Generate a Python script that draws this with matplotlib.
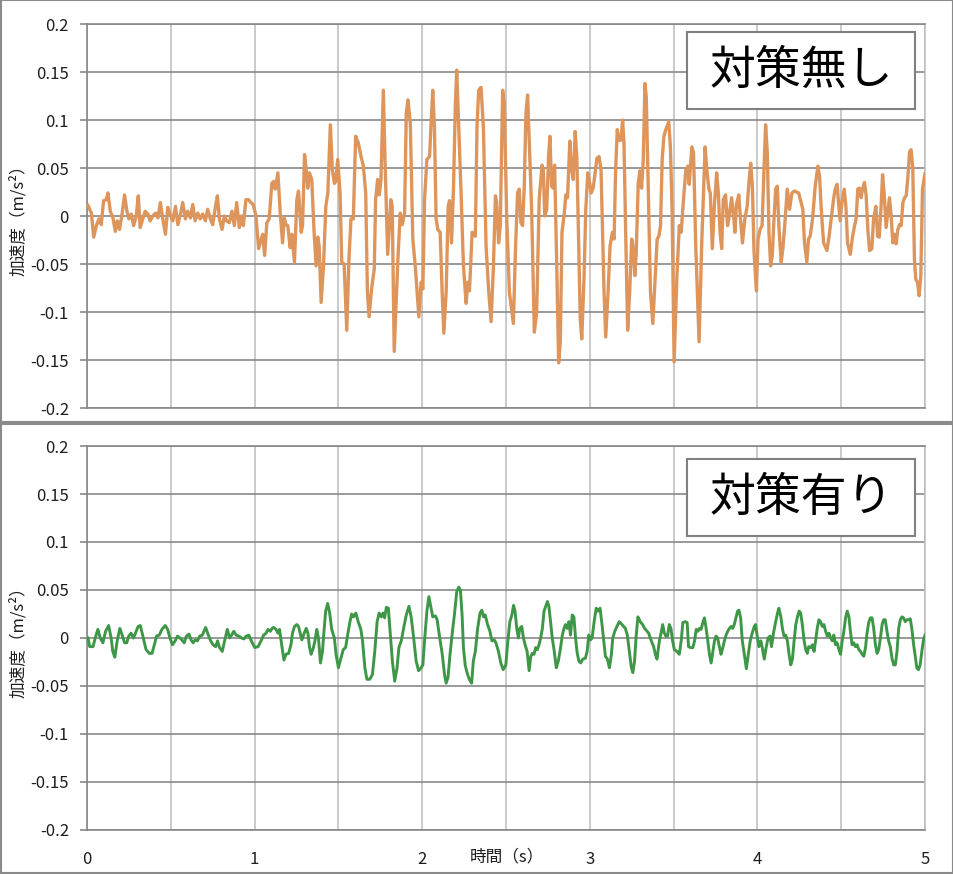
import matplotlib
matplotlib.use("Agg")
import matplotlib.pyplot as plt
from matplotlib.patches import Rectangle
import numpy as np

plt.rcParams['font.family'] = ['Noto Sans CJK JP', 'DejaVu Sans']

# ---- data (time [s], acceleration [m/s^2]) ----
before_t = [
    0.006, 0.026, 0.040, 0.056, 0.071, 0.085, 0.099, 0.115, 0.125, 0.139, 0.155, 0.169, 0.181, 0.194,
    0.210, 0.224, 0.238, 0.250, 0.264, 0.278, 0.294, 0.306, 0.317, 0.333, 0.347, 0.363, 0.377, 0.393,
    0.409, 0.423, 0.438, 0.452, 0.468, 0.482, 0.496, 0.512, 0.528, 0.542, 0.558, 0.571, 0.587, 0.601,
    0.617, 0.631, 0.645, 0.661, 0.675, 0.690, 0.706, 0.720, 0.734, 0.750, 0.766, 0.778, 0.790, 0.806,
    0.819, 0.833, 0.849, 0.865, 0.879, 0.893, 0.909, 0.921, 0.933, 0.948, 0.964, 0.978, 0.992, 1.008,
    1.024, 1.048, 1.060, 1.073, 1.087, 1.103, 1.113, 1.123, 1.139, 1.153, 1.167, 1.177, 1.187, 1.198,
    1.212, 1.222, 1.238, 1.252, 1.262, 1.278, 1.286, 1.298, 1.306, 1.317, 1.327, 1.341, 1.355, 1.367,
    1.377, 1.385, 1.397, 1.411, 1.425, 1.437, 1.452, 1.464, 1.476, 1.484, 1.496, 1.510, 1.520, 1.534,
    1.550, 1.563, 1.575, 1.589, 1.603, 1.619, 1.635, 1.649, 1.663, 1.673, 1.683, 1.698, 1.714, 1.722,
    1.734, 1.744, 1.754, 1.768, 1.778, 1.794, 1.813, 1.821, 1.833, 1.855, 1.869, 1.881, 1.895, 1.905,
    1.915, 1.929, 1.944, 1.960, 1.980, 1.994, 2.004, 2.014, 2.028, 2.044, 2.054, 2.063, 2.073, 2.083,
    2.093, 2.107, 2.119, 2.129, 2.143, 2.155, 2.163, 2.175, 2.187, 2.198, 2.206, 2.218, 2.232, 2.246,
    2.262, 2.272, 2.282, 2.298, 2.306, 2.317, 2.327, 2.337, 2.351, 2.365, 2.381, 2.397, 2.411, 2.425,
    2.437, 2.444, 2.456, 2.466, 2.480, 2.490, 2.504, 2.520, 2.544, 2.556, 2.569, 2.579, 2.589, 2.599,
    2.609, 2.619, 2.629, 2.639, 2.653, 2.669, 2.683, 2.698, 2.715, 2.723, 2.731, 2.743, 2.754, 2.762,
    2.772, 2.782, 2.790, 2.802, 2.814, 2.824, 2.834, 2.848, 2.857, 2.867, 2.881, 2.889, 2.901, 2.913,
    2.923, 2.933, 2.943, 2.952, 2.966, 2.976, 2.988, 2.996, 3.008, 3.020, 3.032, 3.042, 3.055, 3.067,
    3.075, 3.085, 3.095, 3.109, 3.121, 3.135, 3.145, 3.154, 3.164, 3.174, 3.186, 3.196, 3.204, 3.214,
    3.226, 3.238, 3.250, 3.257, 3.269, 3.277, 3.289, 3.299, 3.309, 3.319, 3.329, 3.337, 3.349, 3.362,
    3.376, 3.388, 3.402, 3.412, 3.422, 3.432, 3.442, 3.455, 3.471, 3.481, 3.491, 3.503, 3.520, 3.534,
    3.545, 3.559, 3.573, 3.585, 3.593, 3.609, 3.619, 3.632, 3.652, 3.668, 3.688, 3.698, 3.711, 3.719,
    3.731, 3.743, 3.757, 3.767, 3.777, 3.787, 3.796, 3.810, 3.822, 3.832, 3.846, 3.858, 3.866, 3.875,
    3.889, 3.899, 3.911, 3.925, 3.939, 3.951, 3.960, 3.970, 3.980, 3.994, 4.004, 4.016, 4.028, 4.040,
    4.049, 4.059, 4.069, 4.079, 4.089, 4.099, 4.109, 4.119, 4.128, 4.142, 4.152, 4.166, 4.178, 4.192,
    4.206, 4.221, 4.246, 4.261, 4.271, 4.281, 4.295, 4.305, 4.315, 4.329, 4.345, 4.361, 4.371, 4.381,
    4.395, 4.415, 4.428, 4.440, 4.454, 4.464, 4.476, 4.484, 4.494, 4.504, 4.518, 4.528, 4.538, 4.554,
    4.568, 4.580, 4.589, 4.599, 4.609, 4.619, 4.627, 4.639, 4.649, 4.659, 4.669, 4.683, 4.693, 4.707,
    4.717, 4.727, 4.737, 4.747, 4.756, 4.768, 4.778, 4.788, 4.798, 4.808, 4.818, 4.828, 4.838, 4.848,
    4.858, 4.868, 4.878, 4.888, 4.898, 4.908, 4.917, 4.927, 4.937, 4.945, 4.955, 4.965, 4.975, 4.985,
    5.000,
]
before_acc = [
    0.011, 0.003, -0.022, -0.010, -0.003, -0.009, 0.016, 0.017, 0.024, 0.005, -0.002, -0.016, -0.005, -0.014,
    0.003, 0.022, 0.005, -0.003, 0.002, -0.010, 0.000, 0.021, -0.012, -0.003, 0.005, 0.002, -0.005, 0.000,
    0.003, -0.002, 0.014, -0.003, -0.019, 0.009, 0.002, -0.005, 0.010, -0.009, 0.002, 0.014, -0.003, 0.005,
    -0.002, 0.012, -0.005, 0.003, -0.003, 0.002, -0.005, 0.007, -0.002, -0.009, 0.009, 0.021, -0.003, -0.014,
    0.000, -0.005, -0.007, 0.005, -0.010, 0.014, -0.012, 0.000, -0.010, 0.017, 0.017, 0.014, 0.012, 0.000,
    -0.034, -0.019, -0.041, -0.007, -0.003, 0.034, 0.036, 0.028, 0.045, 0.003, -0.028, -0.002, -0.009, -0.010,
    -0.033, -0.019, -0.048, 0.017, 0.026, -0.017, -0.010, 0.064, 0.052, 0.029, 0.045, 0.038, -0.017, -0.052,
    -0.022, -0.031, -0.090, -0.052, 0.010, 0.024, 0.095, 0.048, 0.034, 0.036, 0.059, 0.024, -0.048, -0.050,
    -0.119, -0.045, -0.003, -0.003, 0.083, 0.076, 0.062, 0.052, 0.024, -0.079, -0.105, -0.076, -0.055, 0.017,
    0.038, 0.022, 0.038, 0.131, 0.059, -0.040, 0.017, 0.010, -0.141, -0.045, 0.003, -0.009, 0.003, 0.107,
    0.121, 0.097, -0.024, -0.055, -0.105, -0.069, -0.076, 0.017, 0.059, 0.062, 0.100, 0.131, 0.093, -0.003,
    -0.014, -0.017, -0.079, -0.122, -0.079, 0.010, 0.016, -0.028, 0.031, 0.117, 0.152, 0.093, 0.024, -0.052,
    -0.091, -0.069, -0.078, -0.017, -0.019, -0.021, 0.093, 0.131, 0.134, 0.093, -0.031, -0.079, -0.110, -0.052,
    0.021, 0.014, -0.028, -0.010, 0.131, 0.117, 0.000, -0.079, -0.112, -0.038, 0.024, 0.028, -0.007, -0.010,
    0.031, 0.107, 0.126, 0.076, 0.007, -0.121, -0.100, 0.017, 0.053, 0.048, 0.000, 0.007, 0.062, 0.083,
    0.031, 0.029, 0.053, -0.045, -0.153, -0.131, -0.017, 0.003, 0.022, 0.019, 0.078, 0.052, 0.038, 0.088,
    0.059, -0.024, -0.107, -0.128, -0.062, 0.007, 0.045, 0.038, 0.024, 0.029, 0.045, 0.060, 0.062, 0.048,
    -0.010, -0.079, -0.126, -0.079, -0.031, -0.017, -0.024, 0.048, 0.090, 0.079, 0.079, 0.100, 0.076, -0.017,
    -0.119, -0.079, -0.024, -0.031, -0.062, -0.038, 0.034, 0.047, 0.029, 0.059, 0.138, 0.124, 0.024, -0.079,
    -0.112, -0.072, -0.024, -0.021, -0.010, 0.059, 0.083, 0.091, 0.098, 0.072, 0.007, -0.152, -0.062, -0.010,
    -0.017, 0.017, 0.048, 0.052, 0.033, 0.072, 0.066, -0.031, -0.131, -0.028, 0.072, 0.048, 0.028, 0.024,
    -0.034, 0.010, 0.045, 0.024, -0.017, -0.034, 0.017, 0.022, -0.010, 0.000, 0.019, 0.000, -0.017, 0.012,
    0.022, -0.003, -0.028, -0.003, 0.010, 0.038, 0.055, 0.031, -0.038, -0.078, -0.024, -0.014, -0.010, 0.052,
    0.095, 0.066, -0.017, -0.052, -0.041, -0.003, 0.028, 0.031, -0.010, -0.048, -0.034, -0.003, 0.028, 0.007,
    0.024, 0.026, 0.024, 0.014, 0.007, -0.028, -0.048, -0.024, -0.021, -0.003, 0.031, 0.052, 0.041, 0.007,
    -0.028, -0.036, -0.021, -0.003, 0.017, 0.028, 0.033, 0.014, -0.005, 0.014, 0.028, 0.010, -0.028, -0.040,
    -0.021, -0.010, -0.003, 0.028, 0.029, 0.019, 0.028, 0.035, 0.021, -0.014, -0.036, -0.034, -0.003, 0.010,
    -0.021, -0.022, 0.007, 0.043, 0.024, -0.012, 0.003, 0.019, 0.000, -0.028, -0.019, -0.029, -0.014, -0.009,
    -0.010, 0.014, 0.019, 0.021, 0.041, 0.067, 0.069, 0.050, -0.045, -0.066, -0.069, -0.083, -0.062, 0.028,
    0.044,
]

after_t = [
    0.006, 0.016, 0.036, 0.049, 0.065, 0.079, 0.095, 0.111, 0.129, 0.144, 0.154, 0.166, 0.180, 0.196,
    0.210, 0.224, 0.237, 0.249, 0.263, 0.277, 0.289, 0.305, 0.318, 0.332, 0.352, 0.372, 0.388, 0.402,
    0.415, 0.431, 0.447, 0.467, 0.481, 0.495, 0.510, 0.526, 0.540, 0.554, 0.566, 0.580, 0.593, 0.609,
    0.621, 0.633, 0.645, 0.659, 0.673, 0.688, 0.708, 0.724, 0.738, 0.752, 0.768, 0.779, 0.791, 0.807,
    0.821, 0.837, 0.851, 0.863, 0.876, 0.890, 0.906, 0.922, 0.936, 0.950, 0.965, 0.981, 1.001, 1.021,
    1.041, 1.054, 1.068, 1.080, 1.094, 1.104, 1.114, 1.128, 1.139, 1.149, 1.163, 1.175, 1.187, 1.203,
    1.217, 1.226, 1.238, 1.252, 1.262, 1.272, 1.282, 1.296, 1.308, 1.318, 1.327, 1.337, 1.351, 1.361,
    1.371, 1.381, 1.393, 1.405, 1.414, 1.424, 1.436, 1.448, 1.460, 1.476, 1.486, 1.500, 1.515, 1.529,
    1.543, 1.555, 1.569, 1.579, 1.590, 1.604, 1.618, 1.634, 1.644, 1.658, 1.670, 1.687, 1.703, 1.717,
    1.731, 1.743, 1.756, 1.766, 1.776, 1.786, 1.798, 1.810, 1.822, 1.836, 1.850, 1.861, 1.875, 1.889,
    1.905, 1.921, 1.935, 1.949, 1.964, 1.978, 1.994, 2.004, 2.014, 2.028, 2.040, 2.051, 2.063, 2.079,
    2.089, 2.103, 2.119, 2.133, 2.143, 2.154, 2.166, 2.178, 2.192, 2.206, 2.218, 2.228, 2.238, 2.246,
    2.257, 2.271, 2.281, 2.295, 2.305, 2.317, 2.331, 2.345, 2.356, 2.366, 2.376, 2.390, 2.404, 2.416,
    2.430, 2.440, 2.455, 2.469, 2.483, 2.499, 2.511, 2.523, 2.535, 2.545, 2.554, 2.564, 2.574, 2.582,
    2.594, 2.604, 2.614, 2.626, 2.638, 2.648, 2.657, 2.667, 2.677, 2.687, 2.697, 2.707, 2.717, 2.727,
    2.737, 2.747, 2.756, 2.766, 2.776, 2.788, 2.800, 2.812, 2.824, 2.836, 2.846, 2.855, 2.865, 2.875,
    2.885, 2.895, 2.905, 2.915, 2.925, 2.935, 2.945, 2.958, 2.974, 2.984, 2.994, 3.004, 3.014, 3.026,
    3.038, 3.049, 3.061, 3.073, 3.083, 3.093, 3.105, 3.117, 3.129, 3.137, 3.149, 3.162, 3.176, 3.192,
    3.212, 3.224, 3.236, 3.248, 3.257, 3.267, 3.277, 3.287, 3.301, 3.315, 3.327, 3.342, 3.351, 3.367,
    3.381, 3.391, 3.401, 3.415, 3.425, 3.435, 3.445, 3.454, 3.464, 3.474, 3.484, 3.494, 3.504, 3.520,
    3.534, 3.546, 3.555, 3.569, 3.581, 3.589, 3.601, 3.615, 3.625, 3.635, 3.645, 3.654, 3.664, 3.674,
    3.684, 3.694, 3.704, 3.714, 3.724, 3.732, 3.744, 3.753, 3.763, 3.773, 3.783, 3.791, 3.803, 3.813,
    3.823, 3.833, 3.843, 3.853, 3.862, 3.872, 3.882, 3.890, 3.900, 3.910, 3.922, 3.934, 3.946, 3.957,
    3.969, 3.981, 3.989, 3.999, 4.009, 4.021, 4.031, 4.041, 4.052, 4.064, 4.076, 4.084, 4.096, 4.108,
    4.120, 4.128, 4.140, 4.150, 4.159, 4.169, 4.179, 4.189, 4.199, 4.209, 4.219, 4.229, 4.239, 4.249,
    4.258, 4.268, 4.278, 4.288, 4.298, 4.306, 4.318, 4.328, 4.338, 4.348, 4.357, 4.367, 4.377, 4.387,
    4.397, 4.407, 4.417, 4.427, 4.437, 4.447, 4.456, 4.466, 4.476, 4.486, 4.496, 4.506, 4.516, 4.526,
    4.536, 4.546, 4.555, 4.565, 4.575, 4.585, 4.595, 4.605, 4.615, 4.625, 4.635, 4.645, 4.654, 4.664,
    4.674, 4.684, 4.694, 4.704, 4.714, 4.724, 4.734, 4.744, 4.753, 4.763, 4.773, 4.783, 4.793, 4.803,
    4.813, 4.823, 4.833, 4.843, 4.853, 4.862, 4.872, 4.882, 4.892, 4.902, 4.912, 4.922, 4.932, 4.942,
    4.951, 4.961, 4.971, 4.981, 4.991, 5.000,
]
after_acc = [
    0.000, -0.009, -0.009, 0.000, 0.009, 0.000, -0.005, 0.007, 0.013, 0.000, -0.014, -0.020, -0.003, 0.010,
    0.003, -0.005, -0.005, 0.002, 0.005, 0.000, 0.005, 0.012, 0.013, 0.003, -0.012, -0.016, -0.016, -0.007,
    0.002, 0.003, 0.009, 0.013, 0.009, 0.000, -0.007, -0.003, 0.002, 0.000, -0.002, -0.005, 0.002, 0.004,
    -0.002, -0.005, -0.002, -0.003, 0.002, 0.003, 0.011, 0.003, -0.003, -0.007, -0.009, -0.003, -0.010, -0.014,
    -0.003, 0.009, 0.000, 0.003, 0.007, 0.003, 0.002, 0.000, -0.001, 0.002, 0.003, -0.003, -0.010, -0.009,
    -0.002, 0.003, 0.005, 0.009, 0.007, 0.010, 0.011, 0.009, 0.005, 0.009, -0.009, -0.023, -0.017, -0.016,
    -0.007, 0.005, 0.012, 0.014, 0.012, 0.005, -0.002, 0.005, 0.010, 0.005, -0.009, -0.017, -0.010, -0.002,
    0.009, 0.000, -0.026, -0.014, 0.007, 0.028, 0.036, 0.026, 0.009, 0.000, -0.017, -0.031, -0.021, -0.012,
    -0.010, 0.003, 0.017, 0.025, 0.022, 0.026, 0.017, 0.009, -0.003, -0.031, -0.043, -0.043, -0.038, -0.014,
    0.017, 0.026, 0.022, 0.026, 0.021, 0.032, 0.031, 0.003, -0.024, -0.045, -0.031, -0.010, -0.003, 0.010,
    0.024, 0.033, 0.021, 0.000, -0.024, -0.034, -0.031, -0.028, -0.003, 0.028, 0.043, 0.033, 0.022, 0.023,
    0.019, 0.002, -0.016, -0.038, -0.047, -0.041, -0.017, 0.003, 0.024, 0.048, 0.053, 0.050, 0.024, -0.010,
    -0.029, -0.038, -0.043, -0.047, -0.024, -0.014, 0.010, 0.026, 0.029, 0.022, 0.024, 0.014, 0.007, -0.003,
    -0.002, -0.005, -0.014, -0.026, -0.033, -0.028, -0.003, 0.017, 0.024, 0.034, 0.028, 0.010, 0.000, 0.010,
    0.012, 0.000, -0.007, -0.014, -0.034, -0.019, -0.016, -0.017, -0.010, -0.012, -0.007, 0.000, 0.010, 0.028,
    0.033, 0.038, 0.033, 0.017, 0.000, -0.014, -0.031, -0.024, -0.012, 0.003, 0.010, 0.014, 0.010, 0.017,
    0.003, 0.024, 0.022, 0.000, -0.016, -0.024, -0.026, -0.022, -0.021, -0.014, 0.003, -0.002, 0.000, 0.017,
    0.031, 0.028, 0.031, 0.014, -0.003, -0.019, -0.022, -0.031, -0.017, 0.000, 0.007, 0.012, 0.017, 0.014,
    0.010, 0.003, -0.014, -0.031, -0.036, -0.024, 0.003, 0.022, 0.017, 0.014, 0.010, 0.007, 0.005, -0.003,
    -0.009, -0.017, -0.022, -0.003, 0.005, 0.014, 0.005, 0.002, 0.002, 0.014, 0.010, -0.003, -0.012, -0.014,
    -0.017, -0.002, 0.016, 0.017, 0.016, -0.009, -0.010, -0.010, -0.003, 0.009, 0.007, 0.010, 0.009, 0.016,
    0.021, 0.010, -0.003, -0.017, -0.026, -0.017, -0.003, 0.002, 0.000, -0.009, -0.017, -0.012, -0.003, 0.003,
    0.007, 0.010, 0.012, 0.010, 0.014, 0.021, 0.028, 0.029, 0.021, -0.003, -0.017, -0.032, -0.017, -0.003,
    0.005, 0.012, 0.014, 0.002, -0.009, -0.003, -0.012, -0.022, -0.010, 0.000, 0.002, -0.009, 0.005, 0.016,
    0.026, 0.031, 0.022, 0.009, 0.002, 0.003, -0.003, -0.017, -0.028, -0.022, -0.003, 0.014, 0.022, 0.028,
    0.026, 0.014, -0.002, -0.012, -0.016, -0.009, -0.010, -0.007, -0.014, -0.002, 0.010, 0.019, 0.017, 0.012,
    0.014, 0.007, 0.002, 0.005, 0.000, -0.003, 0.003, -0.007, -0.005, -0.012, -0.017, -0.003, 0.007, 0.021,
    0.028, 0.022, 0.007, -0.007, -0.005, -0.009, -0.007, -0.012, -0.014, -0.017, -0.019, -0.010, 0.005, 0.016,
    0.021, 0.021, 0.010, -0.007, -0.016, -0.012, 0.000, 0.014, 0.019, 0.019, 0.007, -0.003, -0.009, -0.021,
    -0.028, -0.028, -0.014, 0.010, 0.019, 0.022, 0.021, 0.017, 0.019, 0.019, 0.020, 0.009, -0.007, -0.019,
    -0.031, -0.033, -0.028, -0.014, -0.002, 0.003,
]

y_ticks = [-0.2, -0.15, -0.1, -0.05, 0, 0.05, 0.1, 0.15, 0.2]
y_tick_labels = ['-0.2', '-0.15', '-0.1', '-0.05', '0', '0.05', '0.1', '0.15', '0.2']
x_ticks = [0, 1, 2, 3, 4, 5]
x_minor = [0.5, 1.5, 2.5, 3.5, 4.5]
panel_titles = ['対策無し', '対策有り']
y_label = '加速度（m/s²）'
x_label = '時間（s）'

ORANGE = '#de955c'
GREEN = '#3d9747'
DARK_GRID = '#878787'
LIGHT_GRID = '#bcbcbc'
FRAME = '#8a8a8a'

W, H = 954, 874
fig = plt.figure(figsize=(W / 100, H / 100), dpi=100)

# outer chart frames
for y0, y1 in [(0, 422), (424, 873)]:
    fig.patches.append(Rectangle((1 / W, 1 - y1 / H), (W - 2) / W, (y1 - y0) / H,
                                 transform=fig.transFigure, fill=False,
                                 edgecolor=FRAME, linewidth=1.5))


def make_axes(top_px, bottom_px):
    ax = fig.add_axes([87 / W, 1 - bottom_px / H, 838 / W, (bottom_px - top_px) / H])
    ax.set_xlim(0, 5)
    ax.set_ylim(-0.2, 0.2)
    ax.set_yticks(y_ticks)
    ax.set_yticklabels(y_tick_labels)
    ax.set_xticks(x_ticks)
    ax.set_xticks(x_minor, minor=True)
    ax.grid(axis='y', color=DARK_GRID, linewidth=1.2, zorder=0)
    ax.grid(axis='x', which='both', color=LIGHT_GRID, linewidth=1.1, zorder=0)
    for side in ['top', 'bottom']:
        ax.spines[side].set_color(DARK_GRID)
        ax.spines[side].set_linewidth(1.2)
    ax.spines['right'].set_color(LIGHT_GRID)
    ax.spines['right'].set_linewidth(1.1)
    ax.spines['left'].set_color(DARK_GRID)
    ax.spines['left'].set_linewidth(1.2)
    ax.tick_params(axis='y', length=5, width=1.2, color=DARK_GRID, pad=8,
                   labelsize=12, labelcolor='#1e1e1e')
    ax.tick_params(axis='x', which='both', length=0, pad=15,
                   labelsize=12, labelcolor='#1e1e1e')
    ax.set_axisbelow(True)
    return ax


ax1 = make_axes(24, 408)
ax2 = make_axes(446, 830)

ax1.plot(before_t, before_acc, color=ORANGE, linewidth=2.4, zorder=3,
         solid_joinstyle='round')
ax2.plot(after_t, after_acc, color=GREEN, linewidth=2.1, zorder=3,
         solid_joinstyle='round')
ax1.tick_params(axis='x', labelbottom=False)

# title boxes
for ax, title, (by0, by1) in [(ax1, panel_titles[0], (32, 109)),
                              (ax2, panel_titles[1], (459, 536))]:
    top_px = 24 if ax is ax1 else 446
    yb = 1 - (by1 - top_px) / 384
    yt = 1 - (by0 - top_px) / 384
    xl = (687 - 87) / 838
    xr = (915 - 87) / 838
    ax.add_patch(Rectangle((xl, yb), xr - xl, yt - yb, transform=ax.transAxes,
                           facecolor='white', edgecolor='#808080', linewidth=1.5,
                           zorder=5))
    ax.text((xl + xr) / 2, (yb + yt) / 2, title, transform=ax.transAxes,
            ha='center', va='center', fontsize=33, color='black', zorder=6)

# axis labels
fig.text(18 / W, 1 - 216 / H, y_label, rotation=90, ha='center', va='center',
         fontsize=12, color='#1e1e1e')
fig.text(18 / W, 1 - 638 / H, y_label, rotation=90, ha='center', va='center',
         fontsize=12, color='#1e1e1e')
fig.text(507 / W, 1 - 857 / H, x_label, ha='center', va='center',
         fontsize=12, color='#1e1e1e')

fig.savefig('out.png', dpi=100)
